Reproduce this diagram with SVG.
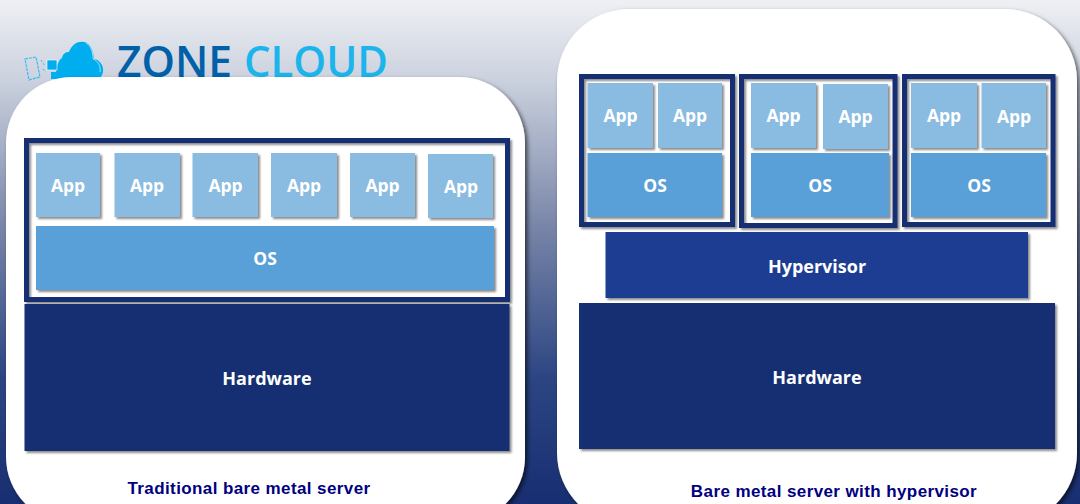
<svg xmlns="http://www.w3.org/2000/svg" width="1080" height="504" viewBox="0 0 1080 504">
<style>
.panel{fill:#fff;filter:url(#ps)}
.app{fill:#8abbe1;filter:url(#s)}
.os{fill:#5aa0d8;filter:url(#s)}
.hw{fill:#172f72;filter:url(#s)}
.hv{fill:#1e3d91;filter:url(#s)}
.frame{fill:none;stroke:#172f72;stroke-width:5;filter:url(#s)}
.t{font-family:"Open Sans","Liberation Sans",sans-serif;font-weight:700;fill:#fff;text-anchor:middle}
.a{font-size:17.5px}
.b{font-size:18px}
.cap{font-family:"Liberation Sans",Arial,sans-serif;font-weight:700;font-size:17px;fill:#000080;letter-spacing:.4px;text-anchor:middle}
.logo{font-family:"Open Sans","Liberation Sans",sans-serif;font-size:44px;font-weight:600}
</style>
<defs>
<linearGradient id="bg" x1="0" y1="0" x2="0" y2="1">
<stop offset="0" stop-color="#eef0f4"/>
<stop offset=".15" stop-color="#cdd3df"/>
<stop offset=".45" stop-color="#7885a8"/>
<stop offset=".75" stop-color="#2c4582"/>
<stop offset="1" stop-color="#172f72"/>
</linearGradient>
<filter id="s" x="-5%" y="-5%" width="112%" height="112%"><feDropShadow dx="2" dy="2" stdDeviation="1.2" flood-color="#000" flood-opacity=".45"/></filter>
<filter id="ps" x="-5%" y="-5%" width="110%" height="110%"><feDropShadow dx="2.500" dy="2.500" stdDeviation="2" flood-color="#000" flood-opacity=".6"/></filter>
</defs>
<rect width="1080" height="504" fill="url(#bg)"/>
<g id="logo">
<path d="M56 79C55 70 58 60 62 58C63 53 66 52 69 52C72 44 78 41 84 42C90 43 93 49 94 59C100 60 104 66 103 72C102 77 99 79 95 79Z" fill="#00aeef"/>
<path d="M86 43C91 46 93 52 93 59C98 61 101 66 100 72" fill="none" stroke="#b8e8fa" stroke-width=".8"/>
<rect x="47" y="60" width="10" height="10" fill="#00aeef" stroke="#fff" stroke-width=".6"/>
<rect x="51" y="72" width="7" height="7" fill="#00aeef"/>
<path d="M25 59L36 57L40 77L29 80Z" fill="none" stroke="#33bdf0" stroke-width="1.200" stroke-dasharray="3 1"/>
<path d="M41 60L45 66M43 69L46 72" fill="none" stroke="#33bdf0" stroke-width="1" stroke-dasharray="2 2"/>
<text class="logo" x="117" y="77" fill="#0060a8" textLength="115" lengthAdjust="spacingAndGlyphs">ZONE</text>
<text class="logo" x="244" y="77" fill="#1cb4ec" textLength="144" lengthAdjust="spacingAndGlyphs">CLOUD</text>
</g>
<g id="panel-left">
<rect class="panel" x="6" y="77" width="519" height="446" rx="66"/>
<rect class="frame" x="26.500" y="140.500" width="481" height="159"/>
<g id="left-app-1"><rect class="app" x="36" y="153" width="64" height="64"/><text class="t a" x="68" y="192">App</text></g>
<g id="left-app-2"><rect class="app" x="114.500" y="153" width="65.500" height="64"/><text class="t a" x="147" y="192">App</text></g>
<g id="left-app-3"><rect class="app" x="192.500" y="153" width="65.500" height="64"/><text class="t a" x="225.500" y="192">App</text></g>
<g id="left-app-4"><rect class="app" x="271" y="153" width="66" height="64"/><text class="t a" x="304" y="192">App</text></g>
<g id="left-app-5"><rect class="app" x="350" y="153" width="65" height="64"/><text class="t a" x="382.500" y="192">App</text></g>
<g id="left-app-6"><rect class="app" x="428" y="154" width="65" height="64"/><text class="t a" x="461" y="193">App</text></g>
<g id="left-os"><rect class="os" x="36" y="226" width="458" height="64"/><text class="t a" x="265" y="265">OS</text></g>
<g id="left-hardware"><rect class="hw" x="24.500" y="304" width="485" height="147"/><text class="t b" x="267" y="385">Hardware</text></g>
<text class="cap" x="249" y="494">Traditional bare metal server</text>
</g>
<g id="panel-right">
<rect class="panel" x="557" y="9" width="520" height="516" rx="72"/>
<rect class="frame" x="581.500" y="76.500" width="151" height="148"/>
<rect class="frame" x="741.500" y="76.500" width="153.500" height="149"/>
<rect class="frame" x="904.500" y="76.500" width="148.500" height="148"/>
<g id="right-app-1"><rect class="app" x="587.500" y="83" width="65.500" height="65"/><text class="t a" x="620.500" y="122">App</text></g>
<g id="right-app-2"><rect class="app" x="658" y="83" width="64" height="65"/><text class="t a" x="690" y="122">App</text></g>
<g id="right-app-3"><rect class="app" x="751" y="83" width="65" height="65"/><text class="t a" x="783.500" y="122">App</text></g>
<g id="right-app-4"><rect class="app" x="823" y="84" width="65" height="65"/><text class="t a" x="855.500" y="123">App</text></g>
<g id="right-app-5"><rect class="app" x="911" y="83" width="66" height="65"/><text class="t a" x="944" y="122">App</text></g>
<g id="right-app-6"><rect class="app" x="981.500" y="83" width="64.500" height="65"/><text class="t a" x="1014" y="123">App</text></g>
<g id="right-os-1"><rect class="os" x="587.500" y="153" width="134.500" height="64"/><text class="t a" x="655" y="192">OS</text></g>
<g id="right-os-2"><rect class="os" x="751" y="153" width="138" height="64"/><text class="t a" x="820" y="192">OS</text></g>
<g id="right-os-3"><rect class="os" x="911" y="153" width="135" height="64"/><text class="t a" x="979" y="192">OS</text></g>
<g id="right-hypervisor"><rect class="hv" x="605.500" y="232" width="422.500" height="66"/><text class="t b" x="817" y="273">Hypervisor</text></g>
<g id="right-hardware"><rect class="hw" x="579" y="303" width="476" height="146"/><text class="t b" x="817" y="384">Hardware</text></g>
<text class="cap" x="834" y="497">Bare metal server with hypervisor</text>
</g>
<g id="connectors"/>
</svg>
